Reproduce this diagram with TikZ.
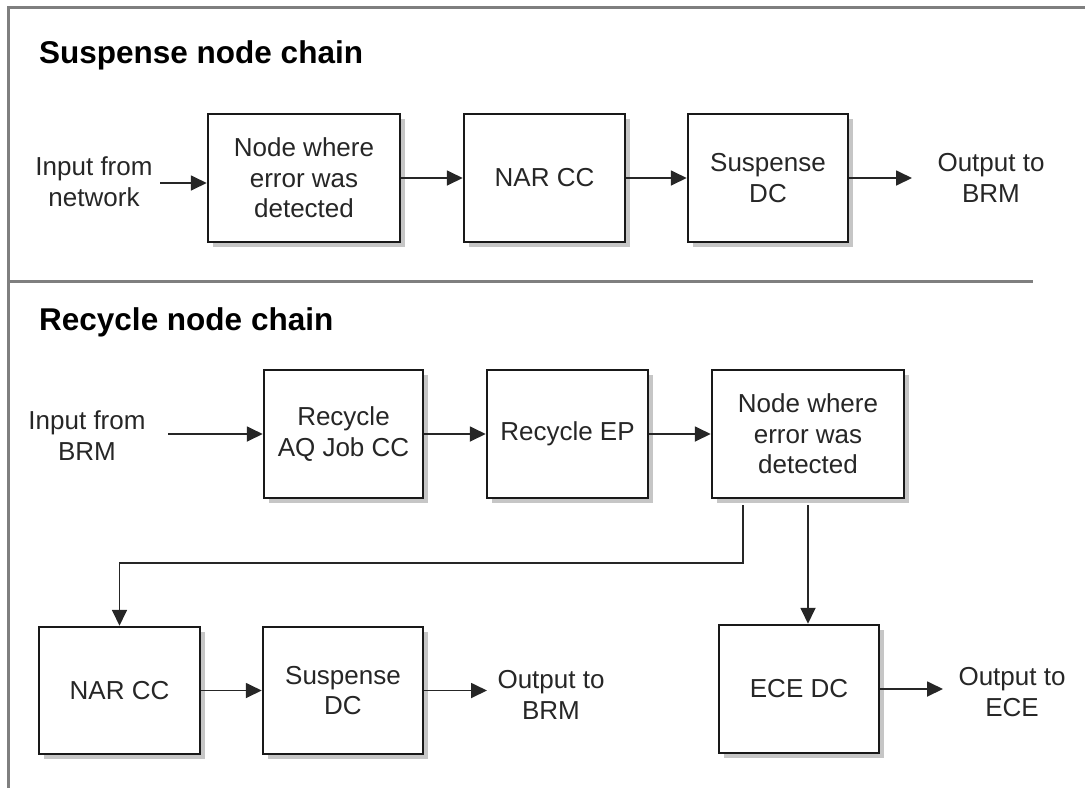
\documentclass[tikz,border=0pt]{standalone}
\usepackage{fontspec}
\setmainfont{Liberation Sans}
\usetikzlibrary{arrows.meta,shadows,calc}
\definecolor{framegray}{HTML}{7F7F7F}
\definecolor{txt}{HTML}{262626}
\tikzset{
  box/.style={draw=black!90, line width=2.5pt, fill=white, align=center, text=txt,
    font=\fontsize{26}{30.5}\selectfont, inner sep=0pt,
    drop shadow={shadow xshift=5pt, shadow yshift=-5pt, fill=black!28, opacity=0.8}},
  lbl/.style={align=center, text=txt, font=\fontsize{26}{31}\selectfont, inner sep=0pt},
  ttl/.style={anchor=west, font=\bfseries\fontsize{31.5}{36}\selectfont, inner sep=0pt},
  arr/.style={draw=black!85, line width=1.8pt, -{Triangle[length=16pt,width=15pt]}},
  frame/.style={draw=framegray, line width=3pt}
}
\begin{document}
\begin{tikzpicture}[x=1pt,y=-1pt]
\useasboundingbox (0,0) rectangle (1085,788);
% frame
\coordinate (ftr) at (1085,7);
\coordinate (ftl) at (8,7);
\coordinate (fbl) at (8,788);
\coordinate (sepl) at (8,281);
\coordinate (sepr) at (1033,281);
\draw[frame] (ftr) -- (ftl) -- (fbl);
\draw[frame] (sepl) -- (sepr);

% titles
\node[ttl] (t1) at (39,55) {Suspense node chain};
\node[ttl] (t2) at (39,322) {Recycle node chain};

% top chain
\node[lbl] (in1) at (94,182) {Input from\\network};
\node[box, minimum width=192pt, minimum height=128pt] (b1) at (304,178) {Node where\\error was\\detected};
\node[box, minimum width=161pt, minimum height=128pt] (b2) at (544.5,178) {NAR CC};
\node[box, minimum width=160pt, minimum height=128pt] (b3) at (768,178) {Suspense\\DC};
\node[lbl] (out1) at (991,178) {Output to\\BRM};
\coordinate (i1) at (160,183);
\coordinate (o1) at (912,178);
\draw[arr] (i1) -- (i1 -| b1.west);
\draw[arr] (b1) -- (b2);
\draw[arr] (b2) -- (b3);
\draw[arr] (b3) -- (o1);

% bottom chain
\node[lbl] (in2) at (87,436) {Input from\\BRM};
\node[box, minimum width=159pt, minimum height=128pt] (r1) at (343.5,434) {Recycle\\AQ Job CC};
\node[box, minimum width=161pt, minimum height=128pt] (r2) at (567.5,434) {Recycle EP};
\node[box, minimum width=192pt, minimum height=128pt] (r3) at (808,434) {Node where\\error was\\detected};
\coordinate (i2) at (168,434);
\draw[arr] (i2) -- (r1);
\draw[arr] (r1) -- (r2);
\draw[arr] (r2) -- (r3);

\node[box, minimum width=161pt, minimum height=127pt] (n2) at (119.5,690.5) {NAR CC};
\node[box, minimum width=160pt, minimum height=127pt] (s2) at (343,690.5) {Suspense\\DC};
\node[lbl] (out2) at (551,695) {Output to\\BRM};
\coordinate (o2) at (487,690.5);
\draw[arr] (n2) -- (s2);
\draw[arr] (s2) -- (o2);

\node[box, minimum width=160pt, minimum height=128pt] (e) at (799,689) {ECE DC};
\node[lbl] (out3) at (1012,692) {Output to\\ECE};
\coordinate (o3) at (943,689);
\draw[arr] (e) -- (o3);

% branches from r3
\coordinate (ea) at ($(r3.south)+(-65,6)$);
\coordinate (ey) at (0,563);
\draw[arr] (ea) -- (ea |- ey) -| (n2.north);
\coordinate (da) at ($(r3.south)+(0,6)$);
\draw[arr] (da) -- (da |- e.north);
\end{tikzpicture}
\end{document}
